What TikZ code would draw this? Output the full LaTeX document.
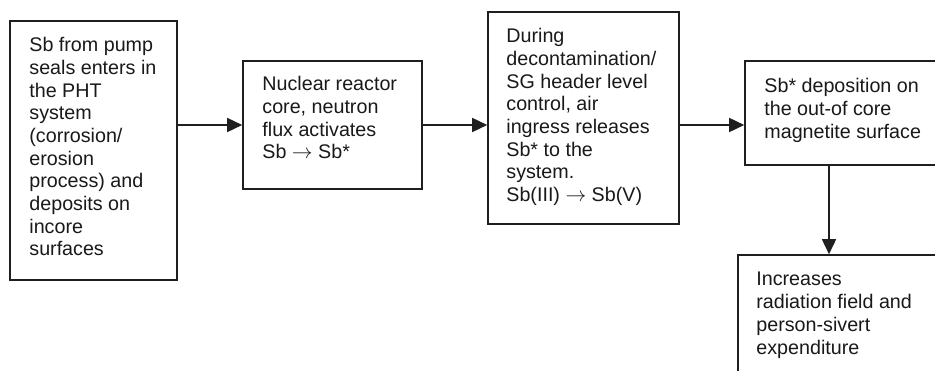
\documentclass[tikz,border=0pt]{standalone}
\usepackage{fontspec}
\setmainfont{Liberation Sans}
\usetikzlibrary{arrows.meta,calc}

\tikzset{
  stagebox/.style={draw=black!88, line width=1.6pt, rectangle, inner sep=0pt},
  stagetext/.style={anchor=north west, inner sep=0pt, align=left,
    font=\fontsize{19.7}{22.7}\selectfont, text=black!90},
  flow/.style={draw=black!88, line width=1.6pt,
    -{Triangle[length=15pt,width=14pt]}},
}
\newcommand{\yields}{\ensuremath{\rightarrow}}

\begin{document}
\begin{tikzpicture}[x=1pt,y=-1pt]
  \useasboundingbox (0,0) rectangle (935,370);
  \clip (0,0) rectangle (935,370);
  \fill[white] (0,0) rectangle (935,370);

  % process stages
  \node[stagebox, minimum width=167pt, minimum height=259pt] (b1) at (93.5,150.5) {};
  \node[stagebox, minimum width=179pt, minimum height=128pt] (b2) at (332.5,125) {};
  \node[stagebox, minimum width=191pt, minimum height=212pt] (b3) at (583.5,118) {};
  \node[stagebox, minimum width=205pt, minimum height=104pt] (b4) at (847.5,113) {};
  \node[stagebox, minimum width=212pt, minimum height=130pt] (b5) at (844,320) {};

  % stage descriptions
  \node[stagetext] (t1) at ($(b1.north west)+(20,17)$)
    {Sb from pump\\seals enters in\\the PHT\\system\\(corrosion/\\erosion\\process) and\\deposits on\\incore\\surfaces};
  \node[stagetext] (t2) at ($(b2.north west)+(20,16)$)
    {Nuclear reactor\\core, neutron\\flux activates\\Sb \yields{} Sb*};
  \node[stagetext] (t3) at ($(b3.north west)+(19,17)$)
    {During\\decontamination/\\SG header level\\control, air\\ingress releases\\Sb* to the\\system.\\Sb(III) \yields{} Sb(V)};
  \node[stagetext] (t4) at ($(b4.north west)+(20,18)$)
    {Sb* deposition on\\the out-of core\\magnetite surface};
  \node[stagetext] (t5) at ($(b5.north west)+(19,18)$)
    {Increases\\radiation field and\\person-sivert\\expenditure};

  % connectors
  \coordinate (lvl) at (0,125);
  \coordinate (drop) at (829,0);
  \draw[flow] (b1.east |- lvl) -- (b2.west |- lvl);
  \draw[flow] (b2.east |- lvl) -- (b3.west |- lvl);
  \draw[flow] (b3.east |- lvl) -- (b4.west |- lvl);
  \draw[flow] (drop |- b4.south) -- (drop |- b5.north);
\end{tikzpicture}
\end{document}
